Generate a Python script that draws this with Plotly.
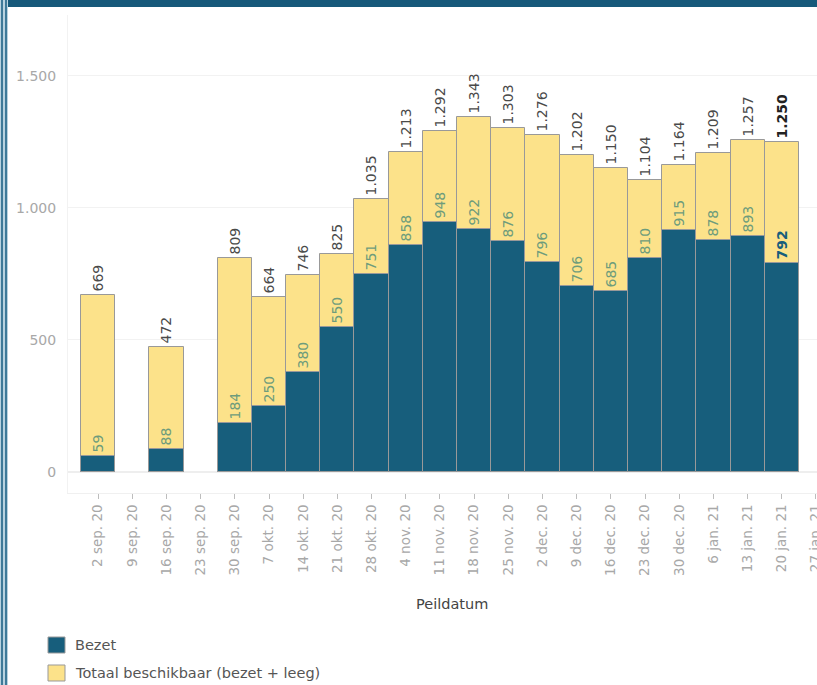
import plotly.graph_objects as go

# ---- data ----
dates = ["2 sep. 20", "9 sep. 20", "16 sep. 20", "23 sep. 20", "30 sep. 20",
         "7 okt. 20", "14 okt. 20", "21 okt. 20", "28 okt. 20", "4 nov. 20",
         "11 nov. 20", "18 nov. 20", "25 nov. 20", "2 dec. 20", "9 dec. 20",
         "16 dec. 20", "23 dec. 20", "30 dec. 20", "6 jan. 21", "13 jan. 21",
         "20 jan. 21", "27 jan. 21"]
totaal = [669, None, 472, None, 809, 664, 746, 825, 1035, 1213, 1292, 1343,
          1303, 1276, 1202, 1150, 1104, 1164, 1209, 1257, 1250, None]
bezet = [59, None, 88, None, 184, 250, 380, 550, 751, 858, 948, 922,
         876, 796, 706, 685, 810, 915, 878, 893, 792, None]
y_ticks = [0, 500, 1000, 1500]

# ---- styling ----
W, H = 817, 685
L, R, T, B = 68, 0, 15, 192
PW, PH = W - L - R, H - T - B
FONT = "DejaVu Sans"
YELLOW = "#FCE28A"
BLUE = "#175E7C"
EDGE = "#999999"
INNER = "#6E9C7C"


def nl(v):
    return "" if v is None else f"{v:,}".replace(",", ".")


last = max(i for i, v in enumerate(totaal) if v is not None)
tot_text = [("<b>%s</b>" % nl(v)) if i == last else nl(v) for i, v in enumerate(totaal)]
bez_text = [("<b>%s</b>" % nl(v)) if i == last else nl(v) for i, v in enumerate(bezet)]
tot_col = ["#222222" if i == last else "#4a4a4a" for i in range(len(dates))]
bez_col = [BLUE if i == last else INNER for i in range(len(dates))]

fig = go.Figure()
fig.add_trace(go.Bar(
    x=dates, y=totaal, width=1.0, name="Totaal beschikbaar (bezet + leeg)",
    marker=dict(color=YELLOW, line=dict(color=EDGE, width=1)),
    text=tot_text, textposition="outside", textangle=-90, constraintext="none",
    outsidetextfont=dict(family=FONT, size=14, color=tot_col),
    cliponaxis=False, showlegend=False, hoverinfo="x+y"))
fig.add_trace(go.Bar(
    x=dates, y=bezet, width=1.0, name="Bezet",
    marker=dict(color=BLUE, line=dict(color=EDGE, width=1)),
    text=bez_text, textposition="outside", textangle=-90, constraintext="none",
    outsidetextfont=dict(family=FONT, size=14, color=bez_col),
    cliponaxis=False, showlegend=False, hoverinfo="x+y"))

ymin, ymax = -80, 1731
fig.update_layout(
    width=W, height=H, barmode="overlay", bargap=0,
    margin=dict(l=L, r=R, t=T, b=B, autoexpand=False),
    paper_bgcolor="white", plot_bgcolor="white",
    separators=",.",
    font=dict(family=FONT, color="#555555"),
    xaxis=dict(type="category", categoryorder="array", categoryarray=dates,
               range=[-0.88, len(dates) - 1 + 0.03],
               tickangle=-90, tickfont=dict(family=FONT, size=13.5, color="#a8a8a8"),
               ticks="outside", ticklen=5, tickcolor="#bdbdbd",
               showline=True, linecolor="#f0f0f0", linewidth=1,
               showgrid=False, zeroline=False, fixedrange=True),
    yaxis=dict(range=[ymin, ymax], tickvals=y_ticks, tickformat=",d",
               tickfont=dict(family=FONT, size=14, color="#a8a8a8"),
               ticklabelstandoff=8, showgrid=True, gridcolor="#f2f2f2",
               zeroline=True, zerolinecolor="#eeeeee",
               showline=True, linecolor="#f2f2f2", fixedrange=True),
)


def px(x):
    return (x - L) / PW


def py(y):
    return (H - B - y) / PH


shapes = []
# frame decoration: top band and left double border
shapes.append(dict(type="rect", xref="paper", yref="paper", x0=px(8), x1=px(W),
                   y0=py(7), y1=py(0), fillcolor="#17597A", line=dict(width=0), layer="above"))
shapes.append(dict(type="rect", xref="paper", yref="paper", x0=px(0), x1=px(8),
                   y0=py(H), y1=py(0), fillcolor="#b9d3e0", line=dict(width=0)))
shapes.append(dict(type="rect", xref="paper", yref="paper", x0=px(1), x1=px(3),
                   y0=py(H), y1=py(0), fillcolor="#3f7a99", line=dict(width=0)))
shapes.append(dict(type="rect", xref="paper", yref="paper", x0=px(5), x1=px(7),
                   y0=py(H), y1=py(0), fillcolor="#3f7a99", line=dict(width=0)))
# legend swatches
legend_items = [("Bezet", BLUE, 645), ("Totaal beschikbaar (bezet + leeg)", YELLOW, 673)]
annotations = []
for label, col, cy in legend_items:
    shapes.append(dict(type="rect", xref="paper", yref="paper",
                       x0=px(48), x1=px(65), y0=py(cy + 8), y1=py(cy - 8),
                       fillcolor=col, line=dict(color=EDGE, width=1)))
    annotations.append(dict(xref="paper", yref="paper", x=px(73), y=py(cy),
                            xanchor="left", yanchor="middle", showarrow=False,
                            text=label, font=dict(family=FONT, size=14.5, color="#555555")))
annotations.append(dict(xref="paper", yref="paper", x=px(452), y=py(604),
                        xanchor="center", yanchor="middle", showarrow=False,
                        text="Peildatum", font=dict(family=FONT, size=14.5, color="#444444")))
fig.update_layout(shapes=shapes, annotations=annotations)

fig.write_html("out.html", config={"displayModeBar": False},
               post_script="document.body.style.margin='0';document.body.style.overflow='hidden';")
